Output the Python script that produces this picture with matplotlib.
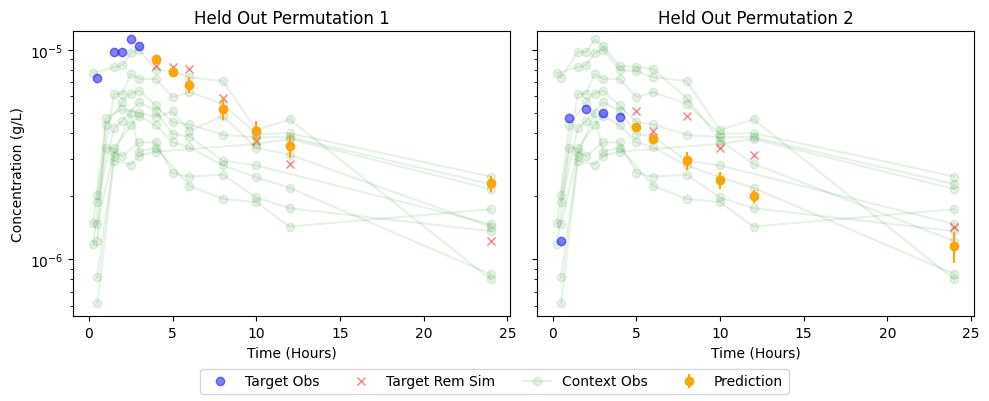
import matplotlib
matplotlib.use("Agg")
import matplotlib.pyplot as plt
import numpy as np

# ---------------- data (concentrations in g/L) ----------------
E = 1e-6
subj_A_t = [0.5, 1.5, 2, 2.5, 3, 4, 5, 6, 8, 10, 12, 24]
subj_A_c = [7.35, 9.75, 9.75, 11.2, 10.4, 8.35, 8.30, 8.08, 5.89, 3.68, 2.85, 1.22]
subj_A_nobs = 5

subj_B_t = [0.5, 1, 2, 3, 4, 5, 6, 8, 10, 12, 24]
subj_B_c = [1.22, 4.71, 5.20, 4.98, 4.77, 5.07, 4.08, 4.83, 3.40, 3.15, 1.43]
subj_B_nobs = 5

ctx_C1_t = [0.25, 1.5, 2, 2.5, 3, 4, 5, 6, 8, 10, 12, 24]
ctx_C1_c = [7.73, 8.26, 8.45, 9.64, 10.0, 8.0, 7.9, 7.4, 7.08, 4.14, 4.65, 0.80]
ctx_C2_t = [0.5, 1.5, 2, 2.5, 3, 4, 5, 6, 8, 10, 12, 24]
ctx_C2_c = [2.03, 6.16, 6.16, 7.68, 7.26, 7.26, 5.94, 6.27, 5.5, 3.96, 3.99, 2.48]
ctx_C3_t = [0.25, 1, 2, 2.5, 3, 4, 5, 6, 8, 10, 12, 24]
ctx_C3_c = [1.48, 4.35, 5.62, 6.16, 6.38, 5.42, 4.51, 4.40, 3.92, 3.82, 3.82, 2.28]
ctx_C4_t = [0.5, 1.5, 2, 3, 4, 5, 6, 8, 10, 24]
ctx_C4_c = [1.87, 4.23, 4.56, 5.62, 5.09, 3.96, 3.85, 2.95, 2.80, 1.47]
ctx_C5_t = [0.25, 1, 1.5, 2.5, 3, 4, 5, 6, 8, 10, 12, 24]
ctx_C5_c = [1.18, 3.40, 3.40, 4.35, 4.85, 4.35, 3.61, 3.42, 2.80, 2.46, 2.19, 0.848]
ctx_C6_t = [0.5, 1.5, 2, 3, 4, 5, 6, 8, 10, 12, 24]
ctx_C6_c = [1.47, 3.26, 3.10, 3.61, 3.61, 2.57, 2.48, 2.53, 1.97, 1.75, 1.36]
ctx_C7_t = [0.5, 1.5, 2.5, 3, 4, 6, 8, 10, 12, 24]
ctx_C7_c = [0.817, 3.12, 4.98, 3.26, 3.40, 2.24, 1.94, 1.87, 1.43, 1.73]
ctx_C8_t = [0.5, 1.5, 2.5, 3, 4, 10, 12, 24]
ctx_C8_c = [0.615, 2.95, 2.83, 3.12, 3.26, 3.55, 3.75, 2.16]

pred1_t = [4, 5, 6, 8, 10, 12, 24]
pred1_mean = [9.02, 7.85, 6.80, 5.23, 4.09, 3.47, 2.30]
pred1_std = [0.20, 0.25, 0.58, 0.62, 0.48, 0.44, 0.20]

pred2_t = [5, 6, 8, 10, 12, 24]
pred2_mean = [4.27, 3.74, 2.96, 2.39, 2.00, 1.15]
pred2_std = [0.19, 0.21, 0.29, 0.22, 0.14, 0.19]

y_limits = (5.33e-7, 1.225e-5)

titles = ["Held Out Permutation 1", "Held Out Permutation 2"]
xlabel = "Time (Hours)"
ylabel = "Concentration (g/L)"

# ---------------- figure ----------------
fig, axes = plt.subplots(1, 2, figsize=(9.89, 4.02), dpi=100, sharey=True)
fig.subplots_adjust(left=0.0741, right=0.985, top=0.9197, bottom=0.2107, wspace=0.061)

common_ctx = [(ctx_C1_t, ctx_C1_c), (ctx_C2_t, ctx_C2_c), (ctx_C3_t, ctx_C3_c),
              (ctx_C4_t, ctx_C4_c), (ctx_C5_t, ctx_C5_c), (ctx_C6_t, ctx_C6_c),
              (ctx_C7_t, ctx_C7_c), (ctx_C8_t, ctx_C8_c)]

panels = [
    dict(target=(subj_A_t, subj_A_c, subj_A_nobs), other=(subj_B_t, subj_B_c),
         pred=(pred1_t, pred1_mean, pred1_std)),
    dict(target=(subj_B_t, subj_B_c, subj_B_nobs), other=(subj_A_t, subj_A_c),
         pred=(pred2_t, pred2_mean, pred2_std)),
]

handles = None
for ax, p, title in zip(axes, panels, titles):
    ctx = [p["other"]] + common_ctx
    hc = None
    for t, c in ctx:
        (l,) = ax.plot(t, np.array(c) * E, "o-", color="green", alpha=0.1)
        hc = hc or l
    tt, tc, nobs = p["target"]
    tc = np.array(tc) * E
    (ho,) = ax.plot(tt[:nobs], tc[:nobs], "o", color="blue", alpha=0.5)
    (hr,) = ax.plot(tt[nobs:], tc[nobs:], "x", color="red", alpha=0.5)
    pt, pm, ps = p["pred"]
    hp = ax.errorbar(pt, np.array(pm) * E, yerr=np.array(ps) * E, fmt="o", color="orange")
    ax.set_yscale("log")
    ax.set_title(title)
    ax.set_xlabel(xlabel)
    ax.set_xticks([0, 5, 10, 15, 20, 25])
    if handles is None:
        handles = [ho, hr, hc, hp]

axes[0].set_ylim(*y_limits)
axes[0].set_ylabel(ylabel)
fig.legend(handles, ["Target Obs", "Target Rem Sim", "Context Obs", "Prediction"],
           loc="lower center", ncol=4, bbox_to_anchor=(0.5, 0.0))

fig.savefig("out.png", dpi=100)
